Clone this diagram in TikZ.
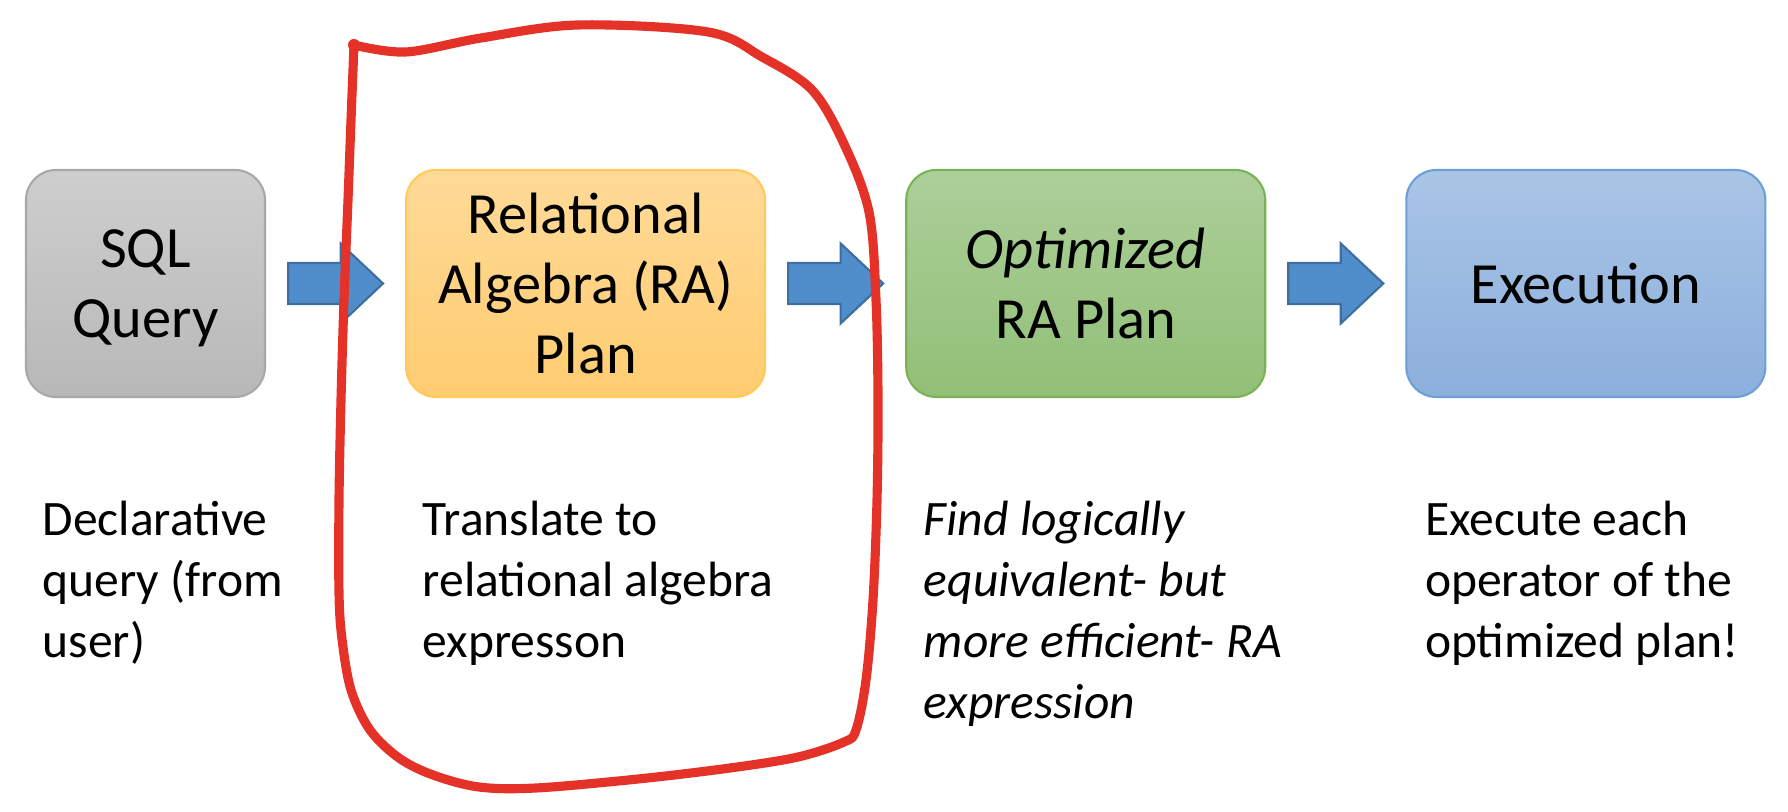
\documentclass[tikz,border=0pt]{standalone}
\usepackage{fontspec}
\setmainfont{Carlito}
\usetikzlibrary{positioning, calc}

\definecolor{graytop}{RGB}{206,206,206}
\definecolor{graybot}{RGB}{184,184,184}
\definecolor{grayline}{RGB}{168,168,168}
\definecolor{goldtop}{RGB}{255,218,152}
\definecolor{goldbot}{RGB}{255,204,112}
\definecolor{goldline}{RGB}{255,202,90}
\definecolor{greentop}{RGB}{172,207,153}
\definecolor{greenbot}{RGB}{146,191,119}
\definecolor{greenline}{RGB}{122,178,88}
\definecolor{bluetop}{RGB}{169,197,230}
\definecolor{bluebot}{RGB}{140,175,220}
\definecolor{blueline}{RGB}{108,160,214}
\definecolor{arrowfill}{RGB}{80,141,203}
\definecolor{arrowline}{RGB}{62,110,160}
\definecolor{pen}{RGB}{229,50,40}

\begin{document}
\begin{tikzpicture}[
  stage/.style={draw, rounded corners=0.3cm, minimum height=2.27cm, minimum width=3.59cm,
    align=center, text depth=0pt, line width=0.6pt, font=\fontsize{16.6}{19.9}\selectfont},
  note/.style={inner sep=0pt, align=left, font=\fontsize{14.1}{17.4}\selectfont},
  flow/.style={fill=arrowfill, draw=arrowline, line width=0.6pt},
  redpen/.style={draw=pen, line width=2.6pt, line cap=round, line join=round}
]
  \useasboundingbox (0,0) rectangle (17.88,8.12);

  % the four stages
  \node[stage, minimum width=2.39cm, top color=graytop, bottom color=graybot, draw=grayline]
    (sql) at (1.455,5.285) {SQL\\Query};
  \node[stage, right=1.39cm of sql, top color=goldtop, bottom color=goldbot, draw=goldline]
    (ra) {Relational\\Algebra (RA)\\Plan};
  \node[stage, right=1.39cm of ra, top color=greentop, bottom color=greenbot, draw=greenline]
    (opt) {\itshape Optimized\\RA Plan};
  \node[stage, right=1.39cm of opt, top color=bluetop, bottom color=bluebot, draw=blueline]
    (exe) {Execution};

  % block arrows between the stages
  \foreach \from/\to in {sql/ra, ra/opt, opt/exe}{
    \draw[flow] ($(\from.east)+(0.22,0.205)$) -- ($(\to.west)+(-0.645,0.205)$)
      -- ($(\to.west)+(-0.645,0.40)$) -- ($(\to.west)+(-0.22,0)$)
      -- ($(\to.west)+(-0.645,-0.40)$) -- ($(\to.west)+(-0.645,-0.205)$)
      -- ($(\from.east)+(0.22,-0.205)$) -- cycle;
  }

  % captions
  \node[note, below right=1.02cm and 0.17cm of sql.south west] (sqlnote)
    {Declarative\\query (from\\user)};
  \node[note, below right=1.02cm and 0.17cm of ra.south west] (ranote)
    {Translate to\\relational algebra\\expresson};
  \node[note, below right=1.02cm and 0.18cm of opt.south west, font=\fontsize{14.1}{17.4}\selectfont\itshape] (optnote)
    {Find logically\\equivalent- but\\more efficient- RA\\expression};
  \node[note, below right=1.02cm and 0.19cm of exe.south west] (exenote)
    {Execute each\\operator of the\\optimized plan!};

  % hand drawn loop round the RA stage
  \draw[redpen] plot[smooth, tension=0.55] coordinates {
    (3.54,7.67) (4.06,7.60) (4.81,7.74) (5.78,7.87) (7.08,7.80) (7.62,7.55)
    (8.12,7.22) (8.44,6.68) (8.69,6.00) (8.76,5.12) (8.78,4.12) (8.77,3.12)
    (8.73,2.12) (8.66,1.32) (8.56,0.82) (8.44,0.70) (7.98,0.55) (7.30,0.44)
    (6.38,0.33) (5.36,0.24) (4.79,0.25) (4.33,0.37) (3.99,0.54) (3.70,0.82)
    (3.51,1.22) (3.42,1.73) (3.39,2.19) (3.39,3.12) (3.41,4.12) (3.44,5.12)
    (3.48,6.12) (3.51,6.92) (3.54,7.67)};
  \fill[pen] (3.54,7.67) circle (0.06);
\end{tikzpicture}
\end{document}
